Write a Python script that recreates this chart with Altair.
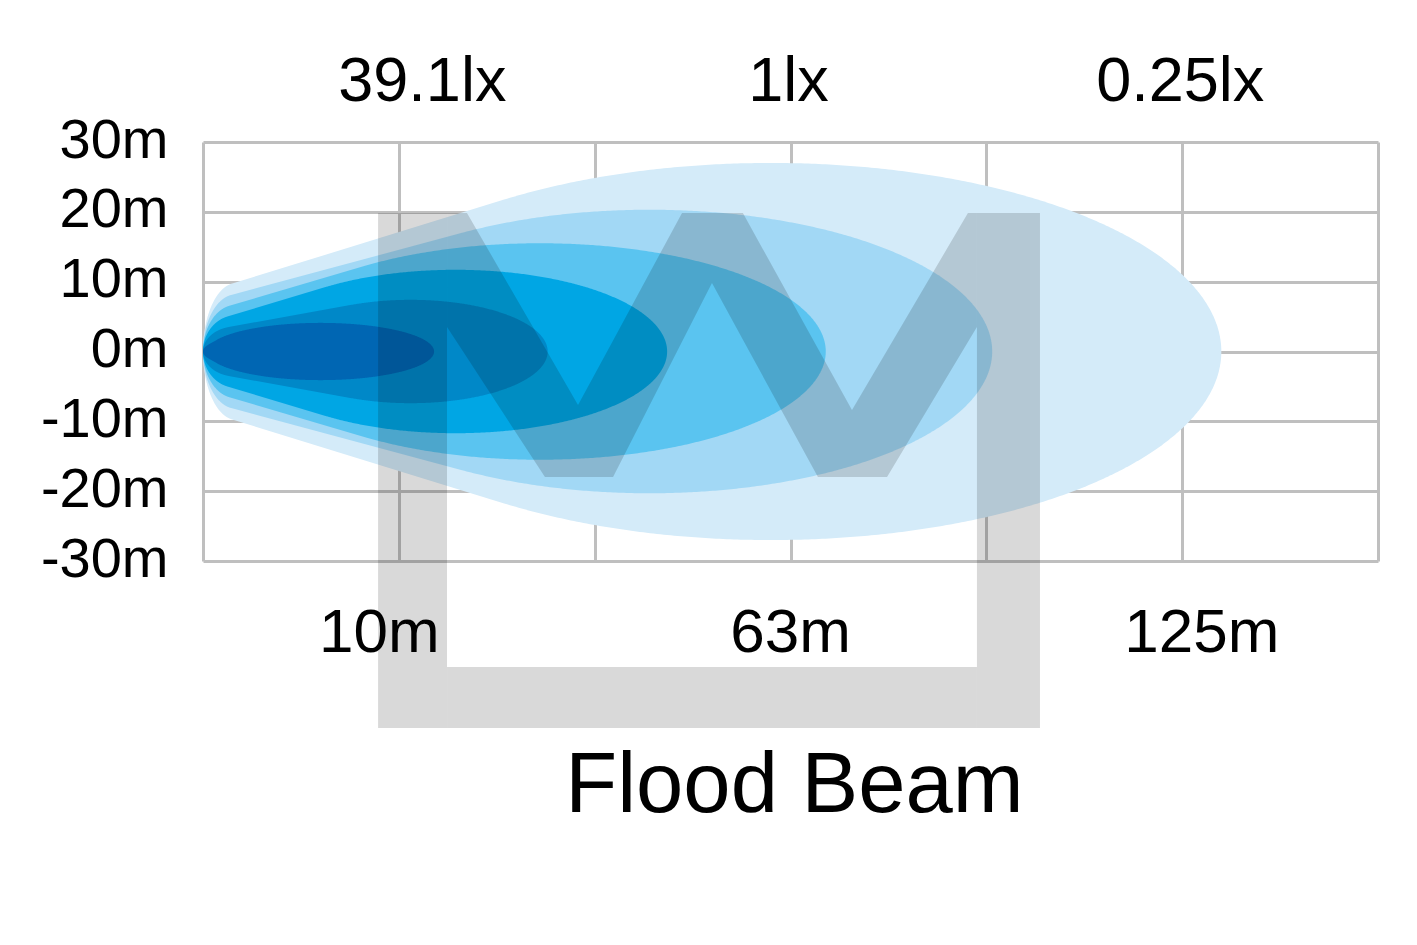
import altair as alt
import numpy as np
import pandas as pd

# ---------------- data ----------------
y_ticks = [-30, -20, -10, 0, 10, 20, 30]
col_lines = [0, 1, 2, 3, 4, 5, 6]

lux_labels = ["39.1lx", "1lx", "0.25lx"]
lux_x = [1.12, 2.99, 4.99]
dist_labels = ["10m", "63m", "125m"]
dist_x = [0.90, 3.00, 5.10]
chart_title = "Flood Beam"

# beam layers, outermost (dimmest) to innermost (brightest)
beam_reach = [5.20, 4.03, 3.18, 2.37, 1.76, 1.18]      # front tip (column units)
beam_center = [2.90, 2.28, 1.72, 1.29, 1.06, 0.60]     # widest point
beam_halfwidth = [27.0, 20.3, 15.5, 11.7, 7.4, 4.1]    # metres
beam_nose = [9.8, 8.2, 6.7, 5.2, 3.6, 1.8]             # half-width near the lamp
beam_colors = ["#d4ebf9", "#a2d8f5", "#5ac4f0", "#00a6e4", "#0088c8", "#0066b3"]

# watermark logo outline (chart units)
logo_bars_x = [0.894, 1.246, 3.952]
logo_bars_x2 = [1.246, 3.952, 4.274]
logo_bars_y = [19.83, -45.18, 19.83]
logo_bars_y2 = [-53.92, -53.92, -53.92]
logo_band_x = [1.246, 1.348, 1.746, 1.915, 2.094, 2.446, 2.599, 2.757, 3.140, 3.314, 3.493, 3.906, 3.952]
logo_band_top = [19.83, 19.83, 0.52, -7.66, 1.59, 19.83, 19.83, 19.83, 0.42, -8.38, 0.13, 19.83, 19.83]
logo_band_bot = [3.51, -0.87, -17.97, -17.97, -17.97, 1.39, 9.81, 1.69, -17.97, -17.97, -17.97, 1.36, 3.51]

FONT = "Liberation Sans"
GRID = "#bfbfbf"

xs = alt.Scale(domain=[0, 6], nice=False, zero=False)
ys = alt.Scale(domain=[-30, 30], nice=False, zero=False)


def upper_hull(px, py):
    order = np.lexsort((py, px))
    pts = list(zip(px[order], py[order]))
    hull = []
    for p in pts:
        while len(hull) >= 2:
            o, a = hull[-2], hull[-1]
            cr = (a[0] - o[0]) * (p[1] - o[1]) - (a[1] - o[1]) * (p[0] - o[0])
            if cr >= 0:
                hull.pop()
            else:
                break
        hull.append(p)
    return np.array(hull)


def beam_outline(reach, cx, b, nose, nose_rx=0.17, n=400):
    t = np.linspace(0, np.pi, n)
    a = reach - cx
    fx = cx + a * np.cos(t)
    fy = b * np.sin(t)
    nx = nose_rx + nose_rx * np.cos(t)
    ny = nose * np.sin(t)
    h = upper_hull(np.concatenate([fx, nx]), np.concatenate([fy, ny]))
    return pd.DataFrame({"x": h[:, 0], "top": h[:, 1], "bot": -h[:, 1]})


layers = []

frame = alt.Chart(pd.DataFrame({"x": [0, 6], "y": [-30, 30]})).mark_point(opacity=0).encode(
    x=alt.X("x:Q", scale=xs, axis=alt.Axis(values=col_lines, labels=False, ticks=False, domain=False,
                                           grid=True, gridColor=GRID, gridWidth=3, title=None)),
    y=alt.Y("y:Q", scale=ys, axis=alt.Axis(values=y_ticks, labelExpr="datum.value + 'm'", ticks=False,
                                           domain=False, grid=True, gridColor=GRID, gridWidth=3,
                                           title=None, labelFont=FONT, labelFontSize=56,
                                           labelColor="black", labelPadding=35,
                                           labelBaseline="alphabetic", labelOffset=15)),
)
layers.append(frame)

for r, c, b, nz, col in zip(beam_reach, beam_center, beam_halfwidth, beam_nose, beam_colors):
    df = beam_outline(r, c, b, nz)
    layers.append(
        alt.Chart(df).mark_area(color=col, opacity=1, interpolate="linear").encode(
            x=alt.X("x:Q", scale=xs), y=alt.Y("top:Q", scale=ys), y2="bot:Q"
        )
    )

# watermark
bars = pd.DataFrame({"x": logo_bars_x, "x2": logo_bars_x2, "y": logo_bars_y, "y2": logo_bars_y2})
layers.append(
    alt.Chart(bars).mark_rect(color="black", opacity=0.15).encode(
        x=alt.X("x:Q", scale=xs), x2="x2:Q", y=alt.Y("y:Q", scale=ys), y2="y2:Q"
    )
)
band = pd.DataFrame({"x": logo_band_x, "top": logo_band_top, "bot": logo_band_bot})
layers.append(
    alt.Chart(band).mark_area(color="black", opacity=0.15, interpolate="linear").encode(
        x=alt.X("x:Q", scale=xs), y=alt.Y("top:Q", scale=ys), y2="bot:Q"
    )
)

# labels
lux_df = pd.DataFrame({"x": lux_x, "y": [35.9] * 3, "t": lux_labels})
dist_df = pd.DataFrame({"x": dist_x, "y": [-43.0] * 3, "t": dist_labels})
title_df = pd.DataFrame({"x": [3.02], "y": [-65.9], "t": [chart_title]})
for d, fs in [(lux_df, 63), (dist_df, 62), (title_df, 85)]:
    layers.append(
        alt.Chart(d).mark_text(font=FONT, fontSize=fs, color="black", align="center",
                               baseline="alphabetic").encode(
            x=alt.X("x:Q", scale=xs), y=alt.Y("y:Q", scale=ys), text="t:N"
        )
    )

chart = alt.layer(*layers).properties(
    width=1175, height=419,
    autosize=alt.AutoSizeParams(type="none"),
    padding={"left": 195, "top": 134, "right": 30, "bottom": 360},
    background="white",
).configure_view(stroke=None)

chart.save("out.html", embed_options={"renderer": "svg", "actions": False})
